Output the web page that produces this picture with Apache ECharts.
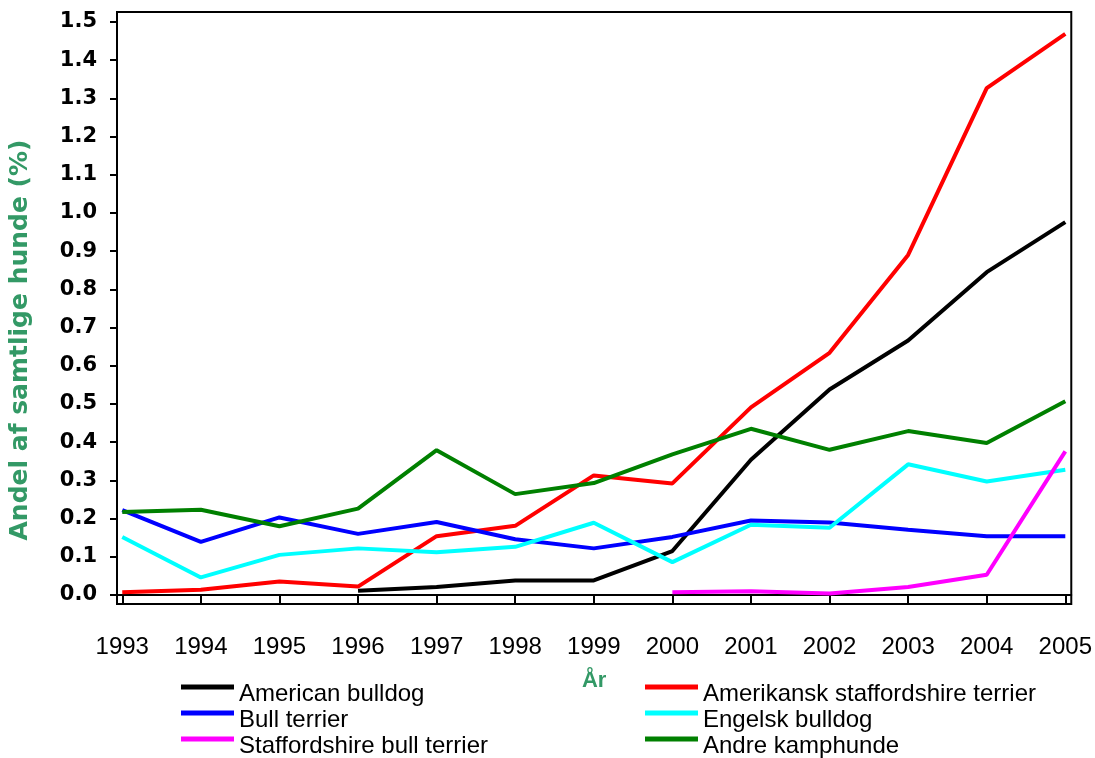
<!DOCTYPE html>
<html>
<head>
<meta charset="utf-8">
<script src="https://cdn.jsdelivr.net/npm/echarts@6/dist/echarts.min.js"></script>
<style>html,body{margin:0;padding:0;background:#fff}#c{width:1095px;height:758px}</style>
</head>
<body>
<div id="c"></div>
<script>
const years = [1993,1994,1995,1996,1997,1998,1999,2000,2001,2002,2003,2004,2005];
const yTicks = [0,0.1,0.2,0.3,0.4,0.5,0.6,0.7,0.8,0.9,1.0,1.1,1.2,1.3,1.4,1.5];
const americanBulldog = [null,null,null,0.011,0.021,0.038,0.038,0.115,0.354,0.538,0.666,0.845,0.976];
const amerikanskStaff = [0.007,0.014,0.035,0.022,0.154,0.181,0.313,0.292,0.491,0.634,0.89,1.327,1.469];
const bullTerrier = [0.222,0.139,0.203,0.16,0.191,0.146,0.122,0.152,0.195,0.19,0.171,0.154,0.154];
const engelskBulldog = [0.152,0.046,0.105,0.122,0.112,0.126,0.189,0.086,0.184,0.176,0.342,0.297,0.328];
const staffBullTerrier = [null,null,null,null,null,null,null,0.007,0.01,0.004,0.021,0.053,0.376];
const andreKamphunde = [0.217,0.223,0.18,0.226,0.379,0.264,0.293,0.368,0.435,0.38,0.429,0.398,0.507];

const seriesDefs = [
  {name:'American bulldog', data: americanBulldog, color:'#000000'},
  {name:'Amerikansk staffordshire terrier', data: amerikanskStaff, color:'#FF0000'},
  {name:'Bull terrier', data: bullTerrier, color:'#0000FF'},
  {name:'Engelsk bulldog', data: engelskBulldog, color:'#00FFFF'},
  {name:'Staffordshire bull terrier', data: staffBullTerrier, color:'#FF00FF'},
  {name:'Andre kamphunde', data: andreKamphunde, color:'#008000'}
];

const chart = echarts.init(document.getElementById('c'), null, {renderer:'canvas'});
const font = 'Liberation Sans, Arial, sans-serif';
const wide = 'DejaVu Sans, sans-serif';
const legendCommon = {
  orient:'vertical', icon:'rect', itemWidth:53, itemHeight:5, itemGap:-12, padding:0, height:110,
  formatter: name => '\n' + name,
  textStyle:{fontFamily:font, fontSize:24, color:'#000', lineHeight:14},
  selectedMode:false
};
chart.setOption({
  animation:false,
  backgroundColor:'#fff',
  grid:{left:117, right:21, top:12, bottom:154, show:true, borderColor:'#000', borderWidth:2, backgroundColor:'transparent'},
  legend:[
    Object.assign({left:181, top:668, data:['American bulldog','Bull terrier','Staffordshire bull terrier']}, legendCommon),
    Object.assign({left:645, top:668, data:['Amerikansk staffordshire terrier','Engelsk bulldog','Andre kamphunde']}, legendCommon)
  ],
  xAxis:{
    type:'value', min:1992.933, max:2005.076,
    name:'År', nameLocation:'middle', nameGap:66,
    nameTextStyle:{fontFamily:font, fontSize:22, fontWeight:'bold', color:'#339966'},
    axisLine:{show:true, lineStyle:{color:'#000', width:2}},
    axisTick:{show:true, length:8, lineStyle:{color:'#000', width:2}, customValues: years},
    axisLabel:{customValues: years, formatter: v => String(Math.round(v)), margin:31,
      fontFamily:font, fontSize:24, color:'#000'},
    splitLine:{show:false}
  },
  yAxis:{
    type:'value', min:-0.0236, max:1.526,
    name:'Andel af samtlige hunde (%)', nameLocation:'middle', nameGap:84, nameRotate:90,
    nameTextStyle:{fontFamily:wide, fontSize:25, fontWeight:'bold', color:'#339966', padding:[0,64,0,0]},
    axisLine:{show:true, lineStyle:{color:'#000', width:2}},
    axisTick:{show:true, length:7, lineStyle:{color:'#000', width:2}, customValues: yTicks},
    axisLabel:{customValues: yTicks, formatter: v => v.toFixed(1), margin:20,
      fontFamily:wide, fontSize:21, fontWeight:'bold', color:'#000'},
    splitLine:{show:false}
  },
  series: seriesDefs.map(s => ({
    name:s.name, type:'line', showSymbol:false, symbol:'none',
    data: years.map((y,i) => [y, s.data[i]]),
    connectNulls:false,
    lineStyle:{color:s.color, width:4},
    itemStyle:{color:s.color}
  }))
});
</script>
</body>
</html>
